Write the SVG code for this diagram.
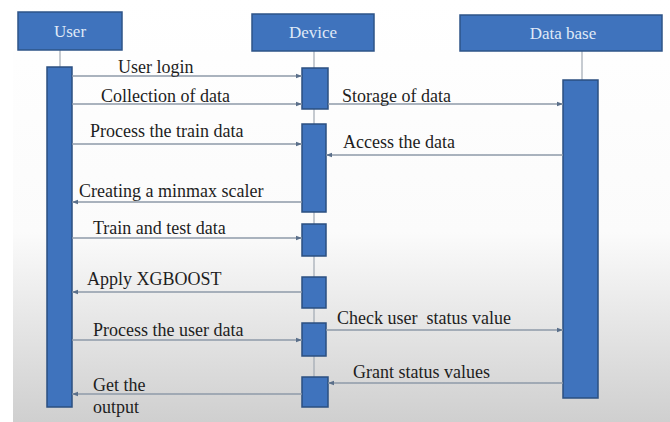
<svg xmlns="http://www.w3.org/2000/svg" width="670" height="422" viewBox="0 0 670 422">
<defs>
<linearGradient id="bg" x1="0" y1="0" x2="0" y2="1">
<stop offset="0" stop-color="#ffffff"/>
<stop offset="0.55" stop-color="#fbfbfb"/>
<stop offset="1" stop-color="#cfcfcf"/>
</linearGradient>
<marker id="ah" viewBox="0 0 6 6" refX="6" refY="3" markerWidth="6" markerHeight="6" orient="auto" markerUnits="userSpaceOnUse">
<path d="M0,0.8 L6,3 L0,5.2 z" fill="#5a6f8a"/>
</marker>
<style>
.hdr{fill:#3f73bd;stroke:#2e5488;stroke-width:1.5}
.act{fill:#3f73bd;stroke:#2b4f80;stroke-width:1.5}
.ht{font-family:"Liberation Serif","Times New Roman",serif;font-size:17px;fill:#dfe9f7;text-anchor:middle}
.lbl{font-family:"Liberation Serif","Times New Roman",serif;font-size:18px;fill:#1e1e1e}
.life{stroke:#a0a8b2;stroke-width:1.2;fill:none}
.msg{stroke:#8e9aa8;stroke-width:1.3;fill:none;marker-end:url(#ah)}
</style>
</defs>
<rect x="0" y="0" width="670" height="422" fill="#ffffff"/>
<rect x="13" y="0" width="657" height="422" fill="url(#bg)"/>

<g id="lifelines">
<line class="life" x1="60" y1="50" x2="60" y2="67"/>
<line class="life" x1="314" y1="51" x2="314" y2="377"/>
<line class="life" x1="582" y1="51" x2="582" y2="80"/>
</g>

<g id="user">
<rect class="hdr" x="18" y="12" width="104" height="38"/>
<text class="ht" x="70" y="37">User</text>
<rect class="act" x="47" y="67" width="25" height="340"/>
</g>

<g id="device">
<rect class="hdr" x="252" y="14" width="122" height="37"/>
<text class="ht" x="313" y="38">Device</text>
<rect class="act" x="302" y="68" width="26" height="41"/>
<rect class="act" x="302" y="124" width="24" height="88"/>
<rect class="act" x="302" y="224" width="24" height="32"/>
<rect class="act" x="302" y="277" width="24" height="31"/>
<rect class="act" x="302" y="323" width="24" height="33"/>
<rect class="act" x="302" y="377" width="26" height="30"/>
</g>

<g id="database">
<rect class="hdr" x="460" y="15" width="202" height="36"/>
<text class="ht" x="563" y="39">Data base</text>
<rect class="act" x="563" y="80" width="35" height="318"/>
</g>

<g id="connectors">
<line class="msg" x1="72" y1="76" x2="302" y2="76"/>
<line class="msg" x1="72" y1="104" x2="302" y2="104"/>
<line class="msg" x1="328" y1="104" x2="563" y2="104"/>
<line class="msg" x1="72" y1="144" x2="302" y2="144"/>
<line class="msg" x1="563" y1="155" x2="326" y2="155"/>
<line class="msg" x1="302" y1="202" x2="72" y2="202"/>
<line class="msg" x1="72" y1="238" x2="302" y2="238"/>
<line class="msg" x1="302" y1="292" x2="72" y2="292"/>
<line class="msg" x1="72" y1="340" x2="302" y2="340"/>
<line class="msg" x1="326" y1="330" x2="563" y2="330"/>
<line class="msg" x1="563" y1="383" x2="328" y2="383"/>
<line class="msg" x1="302" y1="394" x2="72" y2="394"/>
</g>

<g id="labels">
<text class="lbl" x="118" y="73">User login</text>
<text class="lbl" x="101" y="102">Collection of data</text>
<text class="lbl" x="342" y="102">Storage of data</text>
<text class="lbl" x="90" y="137">Process the train data</text>
<text class="lbl" x="343" y="148">Access the data</text>
<text class="lbl" x="79" y="197">Creating a minmax scaler</text>
<text class="lbl" x="93" y="234">Train and test data</text>
<text class="lbl" x="87" y="285">Apply XGBOOST</text>
<text class="lbl" x="93" y="336">Process the user data</text>
<text class="lbl" x="337" y="324" xml:space="preserve">Check user  status value</text>
<text class="lbl" x="353" y="378">Grant status values</text>
<text class="lbl" x="93" y="391">Get the</text>
<text class="lbl" x="93" y="413">output</text>
</g>
</svg>
